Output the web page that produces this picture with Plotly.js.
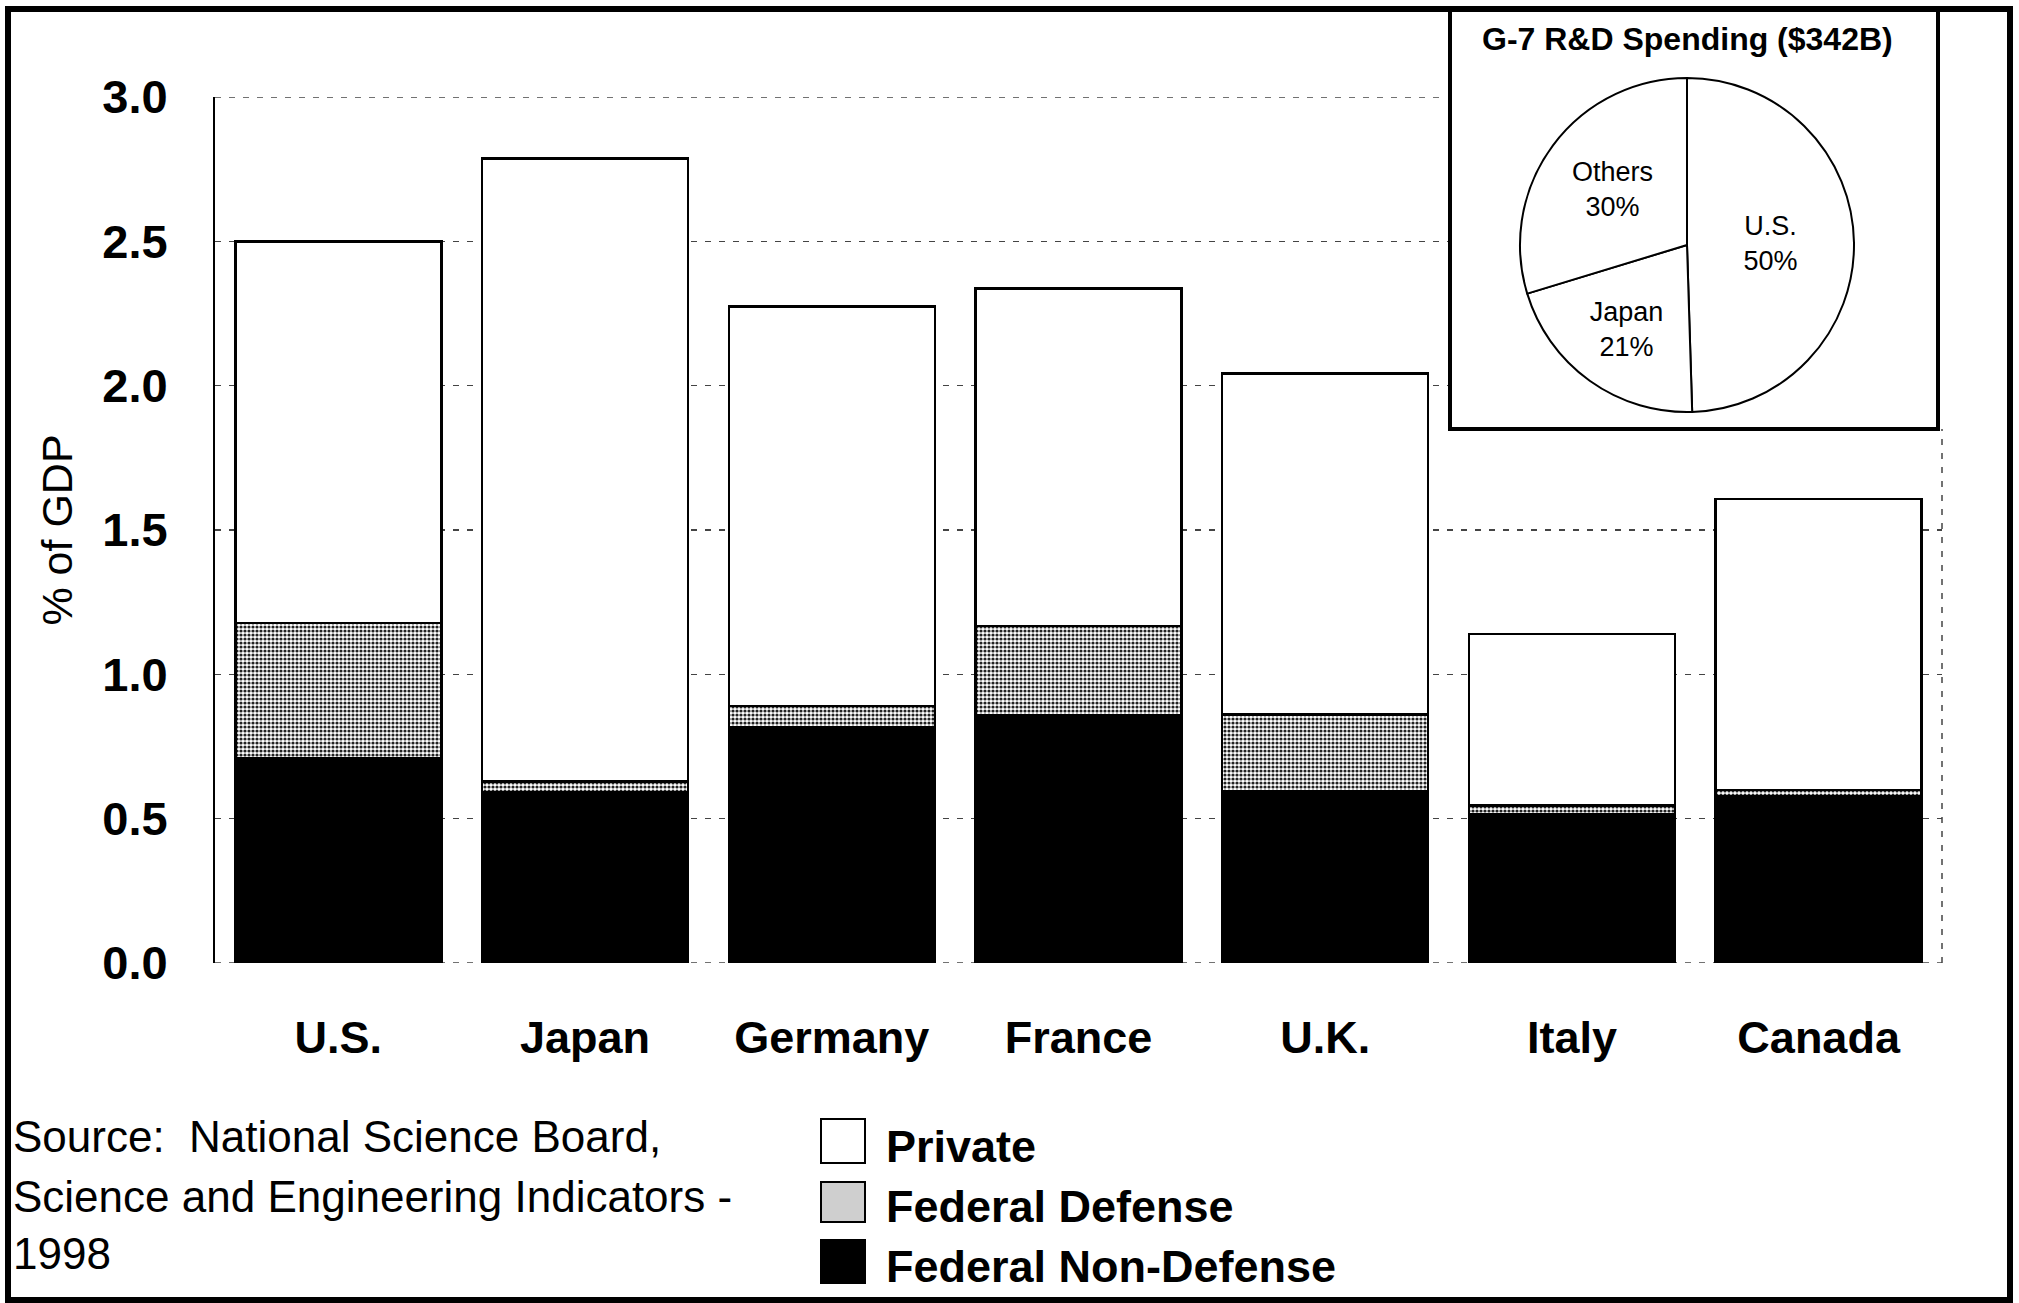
<!DOCTYPE html>
<html>
<head>
<meta charset="utf-8">
<script src="https://cdn.plot.ly/plotly-3.0.1.min.js"></script>
<style>
  html, body { margin: 0; padding: 0; background: #fff; }
  #chart { width: 2019px; height: 1303px; }
</style>
</head>
<body>
<div id="chart"></div>
<script>
// ---- data ----
const countries = ["U.S.", "Japan", "Germany", "France", "U.K.", "Italy", "Canada"];
const federalNonDefense = [0.71, 0.59, 0.815, 0.857, 0.596, 0.515, 0.576];
const federalDefense    = [0.467, 0.038, 0.076, 0.311, 0.265, 0.03, 0.023];
const privateRD         = [1.323, 2.159, 1.383, 1.169, 1.181, 0.595, 1.008];

const pieLabels = ["U.S.", "Japan", "Others"];
const pieShares = [50, 21, 30];
const pieTitle = "G-7 R&D Spending ($342B)";

const yTickVals = [0, 0.5, 1.0, 1.5, 2.0, 2.5, 3.0];
const yTitle = "% of GDP";
const sourceLines = ["Source:\u00a0\u00a0National Science Board,", "Science and Engineering Indicators -", "1998"];
const legendNames = ["Private", "Federal Defense", "Federal Non-Defense"];

// ---- page geometry helpers (pixels -> paper fraction) ----
const W = 2019, H = 1303;
const X = px => px / W;
const Y = py => 1 - py / H;

const FONT = "Liberation Sans, Arial, sans-serif";
const lineStyle = {color: "#000", width: 2.5};
const gridDash = {color: "#444", width: 1.5, dash: "6px,8px"};

const traces = [
  {type: "bar", name: legendNames[2], x: countries, y: federalNonDefense,
   marker: {color: "#000", line: lineStyle}, hoverinfo: "x+y+name"},
  {type: "bar", name: legendNames[1], x: countries, y: federalDefense,
   marker: {color: "#fff", line: lineStyle,
            pattern: {shape: ".", fgcolor: "#222", bgcolor: "#fff", size: 4, solidity: 0.5}},
   hoverinfo: "x+y+name"},
  {type: "bar", name: legendNames[0], x: countries, y: privateRD,
   marker: {color: "#fff", line: lineStyle}, hoverinfo: "x+y+name"},
  {type: "pie", labels: pieLabels, values: pieShares,
   text: pieLabels.map((l, i) => l + "<br>" + pieShares[i] + "%"),
   textinfo: "text", textposition: "inside", insidetextorientation: "horizontal",
   sort: false, direction: "clockwise", rotation: 0,
   marker: {colors: ["#fff", "#fff", "#fff"], line: {color: "#000", width: 2}},
   textfont: {family: FONT, size: 27, color: "#000"},
   domain: {x: [X(1687 - 167), X(1687 + 167)], y: [Y(412), Y(78)]},
   hoverinfo: "label+percent", showlegend: false}
];

const shapes = [
  // dashed top (3.0) and bottom (0.0) grid lines
  {type: "line", xref: "paper", yref: "y", x0: X(215), x1: X(1442), y0: 3, y1: 3, line: gridDash, layer: "between"},
  {type: "line", xref: "paper", yref: "y", x0: X(215), x1: X(1942), y0: 0, y1: 0, line: gridDash, layer: "between"},
  // dashed right edge of plot
  {type: "line", xref: "paper", yref: "y", x0: X(1942), x1: X(1942), y0: 0, y1: 1.85, line: gridDash, layer: "between"},
  // white background of the inset (covers gridlines)
  {type: "rect", xref: "x", yref: "y", x0: 4.5, x1: 6.5, y0: 1.85, y1: 3.0,
   fillcolor: "#fff", line: {width: 0}, layer: "between"},
  // inset frame
  {type: "rect", xref: "paper", yref: "paper", x0: X(1450), x1: X(1938), y0: Y(429), y1: Y(9),
   line: {color: "#000", width: 4}, fillcolor: "rgba(0,0,0,0)", layer: "above"},
  // outer frame
  {type: "rect", xref: "paper", yref: "paper", x0: X(8), x1: X(2010), y0: Y(1300), y1: Y(9),
   line: {color: "#000", width: 6}, fillcolor: "rgba(0,0,0,0)", layer: "above"},
  // legend swatches
  {type: "rect", xref: "paper", yref: "paper", x0: X(821), x1: X(865), y0: Y(1163), y1: Y(1119),
   line: {color: "#000", width: 2}, fillcolor: "#fff"},
  {type: "rect", xref: "paper", yref: "paper", x0: X(821), x1: X(865), y0: Y(1222), y1: Y(1182),
   line: {color: "#000", width: 2}, fillcolor: "#cfcfcf"},
  {type: "rect", xref: "paper", yref: "paper", x0: X(821), x1: X(865), y0: Y(1283), y1: Y(1240),
   line: {color: "#000", width: 2}, fillcolor: "#000"}
];

const annotations = [
  {text: "<b>" + pieTitle + "</b>", xref: "paper", yref: "paper", x: X(1687), y: Y(39),
   xanchor: "center", yanchor: "middle", showarrow: false, font: {family: FONT, size: 32, color: "#000"}},
];
const srcY = [1136, 1196, 1253];
sourceLines.forEach((t, i) => annotations.push({
  text: t, xref: "paper", yref: "paper", x: X(11), y: Y(srcY[i]), xanchor: "left", yanchor: "middle",
  showarrow: false, font: {family: FONT, size: 44, color: "#000"}
}));
const legY = [1146, 1206, 1266];
legendNames.forEach((t, i) => annotations.push({
  text: "<b>" + t + "</b>", xref: "paper", yref: "paper", x: X(884), y: Y(legY[i]), xanchor: "left", yanchor: "middle",
  showarrow: false, font: {family: FONT, size: 45, color: "#000"}
}));

const layout = {
  width: W, height: H,
  margin: {l: 0, r: 0, t: 0, b: 0},
  paper_bgcolor: "#fff", plot_bgcolor: "#fff",
  barmode: "stack", bargap: 0.165,
  showlegend: false,
  font: {family: FONT, color: "#000"},
  xaxis: {
    domain: [X(215), X(1942)],
    type: "category", range: [-0.5, 6.5], autorange: false,
    showline: false, showgrid: false, zeroline: false,
    ticks: "outside", ticklen: 35, tickcolor: "rgba(0,0,0,0)",
    tickfont: {family: FONT, size: 45, color: "#000", weight: "bold"}
  },
  yaxis: {
    domain: [Y(963), Y(97)],
    range: [0, 3], autorange: false,
    tickvals: yTickVals, tickformat: ".1f",
    showline: true, linecolor: "#000", linewidth: 2,
    showgrid: true, gridcolor: "#444", gridwidth: 1.5, griddash: "6px,8px",
    zeroline: false,
    ticks: "outside", ticklen: 36, tickcolor: "rgba(0,0,0,0)",
    tickfont: {family: FONT, size: 47, color: "#000", weight: "bold"},
    title: {text: yTitle, font: {family: FONT, size: 43, color: "#000"}, standoff: 16}
  },
  shapes: shapes,
  annotations: annotations
};

Plotly.newPlot("chart", traces, layout, {displayModeBar: false, staticPlot: true});
</script>
</body>
</html>
